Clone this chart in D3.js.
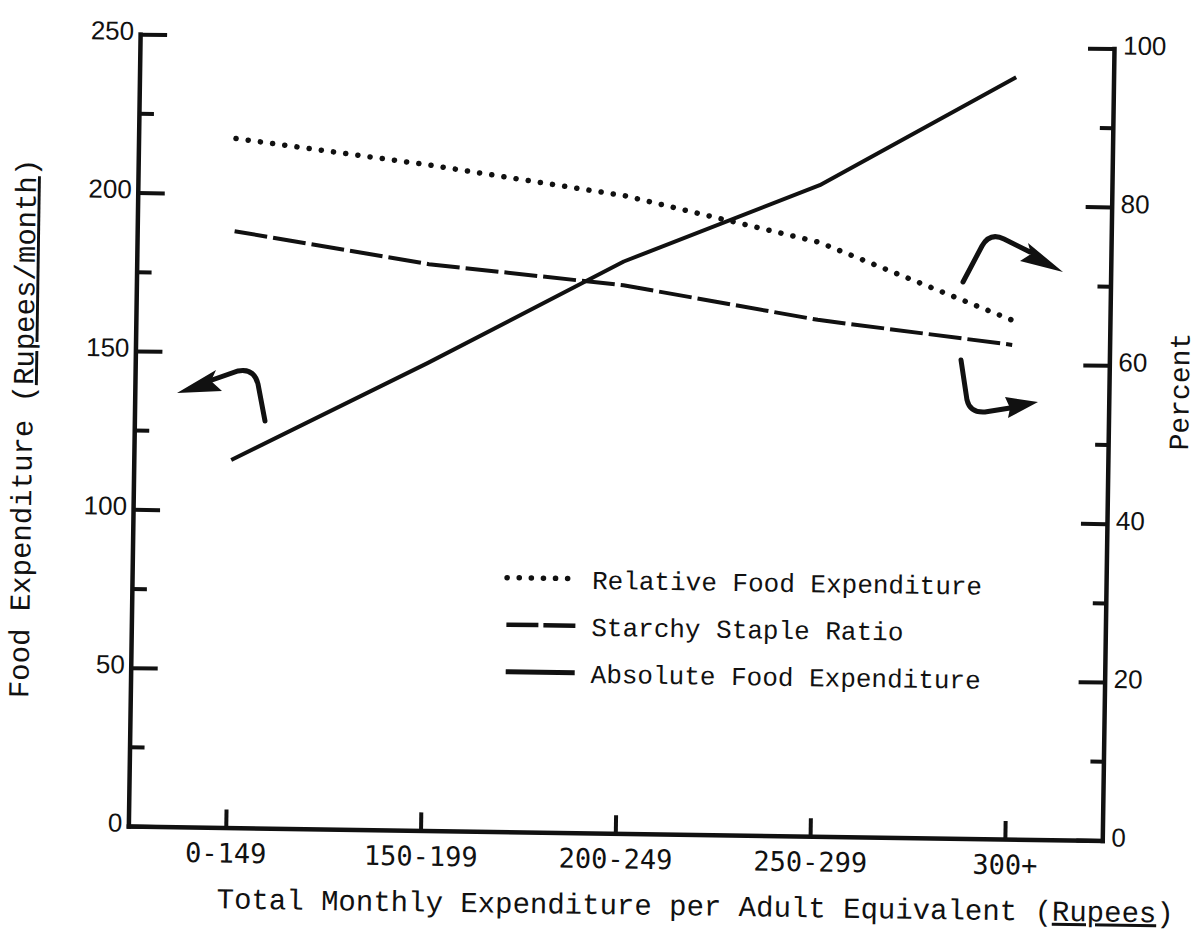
<!DOCTYPE html>
<html><head><meta charset="utf-8">
<script src="https://cdn.jsdelivr.net/npm/d3@7"></script>
<style>html,body{margin:0;padding:0;background:#fff;} svg{display:block;}</style>
</head><body>
<svg id="chart" width="1203" height="950"></svg>
<script>
// ---- data ----
const categories = ["0-149", "150-199", "200-249", "250-299", "300+"];
const absoluteFood = [116, 147.5, 180.5, 205.5, 240.5];   // Rupees/month (left axis)
const relativeFood = [87, 84, 80.5, 75, 65.5];            // percent (right axis)
const starchyRatio = [75.3, 71.5, 69.2, 65.2, 62.4];      // percent (right axis)
const leftMajorTicks = [0, 50, 100, 150, 200, 250];
const leftMinorTicks = [25, 75, 125, 175, 225];
const rightMajorTicks = [0, 20, 40, 60, 80, 100];
const rightMinorTicks = [10, 30, 50, 70, 90];
const legendLabels = ["Relative Food Expenditure", "Starchy Staple Ratio", "Absolute Food Expenditure"];
const xTitle = ["Total Monthly Expenditure per Adult Equivalent (", "Rupees", ")"];
const yLeftTitle = ["Food Expenditure (", "Rupees/month", ")"];
const yRightTitle = "Percent";

// ---- layout ----
const svg = d3.select("#chart");
const ink = "#111";
const L = 134, R = 1108, T = 41, B = 833;
const g = svg.append("g").attr("transform", "rotate(0.85,600,450)");

const x = d3.scalePoint().domain(categories).range([L, R]).padding(0.5);
const yL = d3.scaleLinear().domain([0, 250]).range([B, T]);
const yR = d3.scaleLinear().domain([0, 100]).range([B, T]);

function styleAxis(sel, font, size) {
  sel.selectAll(".domain").attr("stroke", ink).attr("stroke-width", 4.5).attr("stroke-linecap", "square");
  sel.selectAll(".tick line").attr("stroke", ink).attr("stroke-width", 4);
  sel.selectAll(".tick text").attr("fill", ink).attr("font-family", font).attr("font-size", size);
}

// left axis
const gl = g.append("g").attr("transform", `translate(${L},0)`)
  .call(d3.axisLeft(yL).tickValues(leftMajorTicks).tickSize(-27).tickSizeOuter(0).tickPadding(6).tickFormat(d3.format("d")));
styleAxis(gl, "Liberation Sans", 26);
gl.selectAll(".tick text").attr("dy", "0.32em").attr("y", -3);
const glm = g.append("g").attr("transform", `translate(${L},0)`)
  .call(d3.axisLeft(yL).tickValues(leftMinorTicks).tickSize(-15).tickFormat(""));
glm.select(".domain").remove();
styleAxis(glm, "Liberation Sans", 26);

// right axis
const gr = g.append("g").attr("transform", `translate(${R},0)`)
  .call(d3.axisRight(yR).tickValues(rightMajorTicks).tickSize(-26).tickSizeOuter(0).tickPadding(9).tickFormat(d3.format("d")));
styleAxis(gr, "Liberation Sans", 26);
gr.selectAll(".tick text").attr("dy", "0.32em").attr("y", -3);
const grm = g.append("g").attr("transform", `translate(${R},0)`)
  .call(d3.axisRight(yR).tickValues(rightMinorTicks).tickSize(-13).tickFormat(""));
grm.select(".domain").remove();
styleAxis(grm, "Liberation Sans", 26);

// bottom axis
const gb = g.append("g").attr("transform", `translate(0,${B})`)
  .call(d3.axisBottom(x).tickSize(-18).tickSizeOuter(0).tickPadding(16));
styleAxis(gb, "DejaVu Sans Mono", 27);

// ---- series ----
const idx = d3.range(categories.length);
const lineAbs = d3.line().x(i => x(categories[i])).y(i => yL(absoluteFood[i]));
const lineRel = d3.line().x(i => x(categories[i])).y(i => yR(relativeFood[i]));
const lineSta = d3.line().x(i => x(categories[i])).y(i => yR(starchyRatio[i]));

g.append("path").attr("d", lineRel(idx)).attr("fill", "none").attr("stroke", ink)
  .attr("stroke-width", 5.5).attr("stroke-linecap", "round").attr("stroke-dasharray", "0.1 12.2");
g.append("path").attr("d", lineSta(idx)).attr("fill", "none").attr("stroke", ink)
  .attr("stroke-width", 4).attr("stroke-dasharray", "33 6");
g.append("path").attr("d", lineAbs(idx)).attr("fill", "none").attr("stroke", ink)
  .attr("stroke-width", 4).attr("stroke-linejoin", "round");

// ---- legend ----
const legY = [589, 636, 683];
const legStyles = [
  {w: 5.5, dash: "0.1 12", cap: "round"},
  {w: 4.5, dash: "32 5", cap: "butt"},
  {w: 5, dash: null, cap: "butt"}
];
const leg = g.append("g");
legendLabels.forEach((t, i) => {
  leg.append("line").attr("x1", 509).attr("x2", 578).attr("y1", legY[i] - 10).attr("y2", legY[i] - 10)
    .attr("stroke", ink).attr("stroke-width", legStyles[i].w).attr("stroke-linecap", legStyles[i].cap)
    .attr("stroke-dasharray", legStyles[i].dash);
  leg.append("text").attr("x", 594).attr("y", legY[i]).attr("fill", ink)
    .attr("font-family", "Liberation Mono").attr("font-size", 26).text(t);
});

// ---- titles ----
const xt = g.append("text").attr("x", 702).attr("y", 914).attr("text-anchor", "middle")
  .attr("font-family", "Liberation Mono").attr("font-size", 29).attr("fill", ink);
xt.append("tspan").text(xTitle[0]);
xt.append("tspan").attr("text-decoration", "underline").text(xTitle[1]);
xt.append("tspan").text(xTitle[2]);

const ylt = g.append("text").attr("transform", "translate(32,437) rotate(-90)").attr("text-anchor", "middle")
  .attr("font-family", "Liberation Mono").attr("font-size", 29).attr("fill", ink);
ylt.append("tspan").text(yLeftTitle[0]);
ylt.append("tspan").attr("text-decoration", "underline").text(yLeftTitle[1]);
ylt.append("tspan").text(yLeftTitle[2]);

g.append("text").attr("transform", "translate(1188,383) rotate(-90)").attr("text-anchor", "middle")
  .attr("font-family", "Liberation Mono").attr("font-size", 28).attr("fill", ink).text(yRightTitle);

// ---- bent annotation arrows (page coordinates) ----
const arrows = svg.append("g").attr("fill", "none").attr("stroke", ink).attr("stroke-width", 5).attr("stroke-linecap", "round");
arrows.append("path").attr("d", "M265,421 L258,384 Q254,368 238,371 L212,380");
svg.append("path").attr("d", "M177,393 L216,370 L211,381 L222,391 Z").attr("fill", ink);
arrows.append("path").attr("d", "M963,282 L982,246 Q990,232 1004,239 L1030,252");
svg.append("path").attr("d", "M1063,272 L1028,243 L1031,254 L1020,261 Z").attr("fill", ink);
arrows.append("path").attr("d", "M961,360 L967,400 Q970,413 985,412 L1010,408");
svg.append("path").attr("d", "M1038,402 L1005,397 L1010,408 L1008,418 Z").attr("fill", ink);
</script>
</body></html>
